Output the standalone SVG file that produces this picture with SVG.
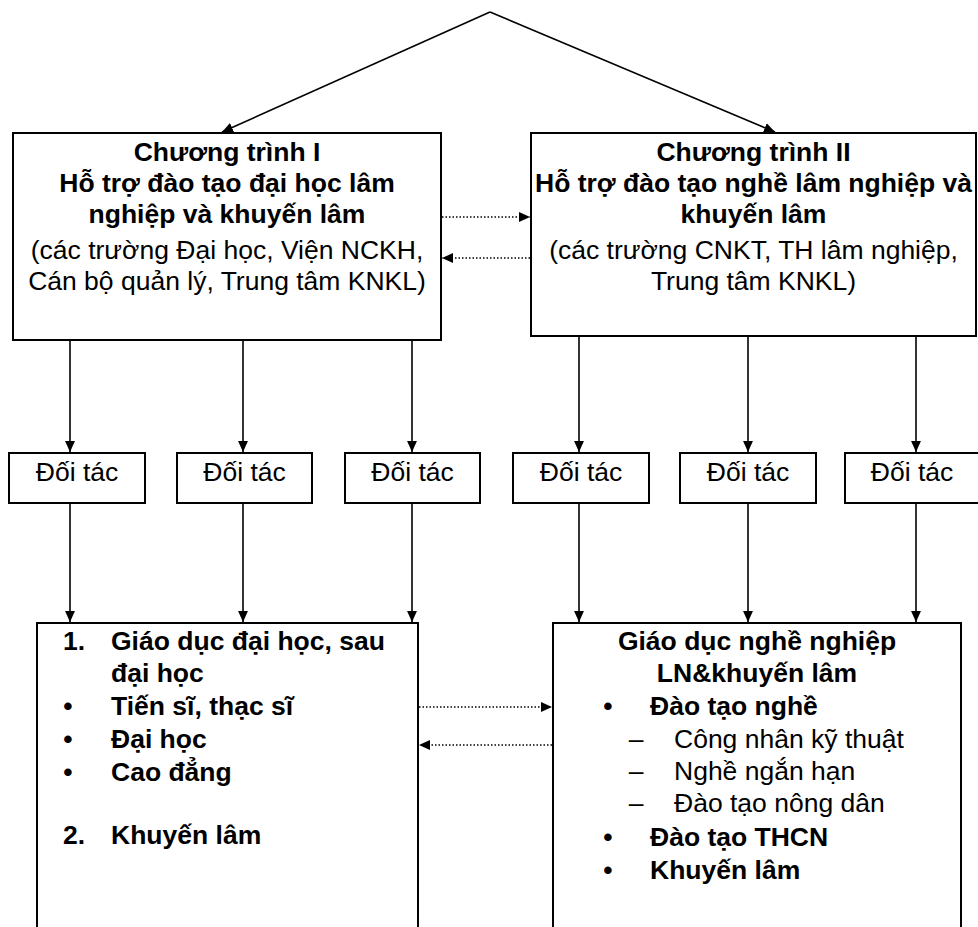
<svg xmlns="http://www.w3.org/2000/svg" width="978" height="927" viewBox="0 0 978 927">
<style>
.box{fill:#fff;stroke:#000;stroke-width:2}
.ln{fill:none;stroke:#000;stroke-width:1.6}
.dot{fill:none;stroke:#000;stroke-width:1.6;stroke-dasharray:1.5 2}
text{font-family:"Liberation Sans",Arial,sans-serif;font-size:26.5px;fill:#000}
.b{font-weight:bold}
.c{text-anchor:middle}
</style>
<defs>
<marker id="ah" markerUnits="userSpaceOnUse" markerWidth="11" markerHeight="10" refX="10" refY="4.5" orient="auto" viewBox="0 0 10 9">
<path d="M0,0 L10,4.5 L0,9 z" fill="#000"/>
</marker>
</defs>
<rect width="978" height="927" fill="#fff"/>

<g id="connectors">
<line class="ln" x1="490" y1="12" x2="222" y2="132" marker-end="url(#ah)"/>
<line class="ln" x1="490" y1="12" x2="775" y2="132" marker-end="url(#ah)"/>
<line class="dot" x1="442" y1="217" x2="530" y2="217" marker-end="url(#ah)"/>
<line class="dot" x1="530" y1="258" x2="442" y2="258" marker-end="url(#ah)"/>
<line class="ln" x1="70" y1="340" x2="70" y2="452" marker-end="url(#ah)"/>
<line class="ln" x1="243" y1="340" x2="243" y2="452" marker-end="url(#ah)"/>
<line class="ln" x1="412" y1="340" x2="412" y2="452" marker-end="url(#ah)"/>
<line class="ln" x1="579" y1="336" x2="579" y2="452" marker-end="url(#ah)"/>
<line class="ln" x1="748" y1="336" x2="748" y2="452" marker-end="url(#ah)"/>
<line class="ln" x1="916" y1="336" x2="916" y2="452" marker-end="url(#ah)"/>
<line class="ln" x1="70" y1="503" x2="70" y2="622" marker-end="url(#ah)"/>
<line class="ln" x1="243" y1="503" x2="243" y2="622" marker-end="url(#ah)"/>
<line class="ln" x1="412" y1="503" x2="412" y2="622" marker-end="url(#ah)"/>
<line class="ln" x1="579" y1="503" x2="579" y2="622" marker-end="url(#ah)"/>
<line class="ln" x1="748" y1="503" x2="748" y2="622" marker-end="url(#ah)"/>
<line class="ln" x1="916" y1="503" x2="916" y2="622" marker-end="url(#ah)"/>
<line class="dot" x1="419" y1="707" x2="552" y2="707" marker-end="url(#ah)"/>
<line class="dot" x1="552" y1="745" x2="419" y2="745" marker-end="url(#ah)"/>
</g>

<g id="program1">
<rect class="box" x="13" y="133" width="428" height="207"/>
<text class="b c" x="227" y="161">Chương trình I</text>
<text class="b c" x="227" y="192">Hỗ trợ đào tạo đại học lâm</text>
<text class="b c" x="227" y="223">nghiệp và khuyến lâm</text>
<text class="c" x="227" y="259">(các trường Đại học, Viện NCKH,</text>
<text class="c" x="227" y="290">Cán bộ quản lý, Trung tâm KNKL)</text>
</g>

<g id="program2">
<rect class="box" x="531" y="133" width="445" height="203"/>
<text class="b c" x="753.5" y="161">Chương trình II</text>
<text class="b c" x="753.5" y="192">Hỗ trợ đào tạo nghề lâm nghiệp và</text>
<text class="b c" x="753.5" y="223">khuyến lâm</text>
<text class="c" x="753.5" y="259">(các trường CNKT, TH lâm nghiệp,</text>
<text class="c" x="753.5" y="290">Trung tâm KNKL)</text>
</g>

<g id="partner1"><rect class="box" x="9" y="453" width="136" height="50"/><text class="c" x="77" y="481">Đối tác</text></g>
<g id="partner2"><rect class="box" x="177" y="453" width="135" height="50"/><text class="c" x="244.5" y="481">Đối tác</text></g>
<g id="partner3"><rect class="box" x="345" y="453" width="135" height="50"/><text class="c" x="412.5" y="481">Đối tác</text></g>
<g id="partner4"><rect class="box" x="513" y="453" width="136" height="50"/><text class="c" x="581" y="481">Đối tác</text></g>
<g id="partner5"><rect class="box" x="680" y="453" width="136" height="50"/><text class="c" x="748" y="481">Đối tác</text></g>
<g id="partner6"><rect class="box" x="845" y="453" width="140" height="50"/><text class="c" x="912" y="481">Đối tác</text></g>

<g id="higher-education">
<rect class="box" x="37" y="623" width="381" height="340"/>
<text class="b" x="63" y="650">1.</text>
<text class="b" x="111" y="650">Giáo dục đại học, sau</text>
<text class="b" x="111" y="682">đại học</text>
<text class="b c" x="68" y="715">•</text>
<text class="b" x="111" y="715">Tiến sĩ, thạc sĩ</text>
<text class="b c" x="68" y="748">•</text>
<text class="b" x="111" y="748">Đại học</text>
<text class="b c" x="68" y="781">•</text>
<text class="b" x="111" y="781">Cao đẳng</text>
<text class="b" x="63" y="844">2.</text>
<text class="b" x="111" y="844">Khuyến lâm</text>
</g>

<g id="vocational-education">
<rect class="box" x="553" y="623" width="408" height="340"/>
<text class="b c" x="757" y="650">Giáo dục nghề nghiệp</text>
<text class="b c" x="757" y="682">LN&amp;khuyến lâm</text>
<text class="b c" x="608" y="715">•</text>
<text class="b" x="650" y="715">Đào tạo nghề</text>
<text class="c" x="636" y="748">–</text>
<text x="674" y="748">Công nhân kỹ thuật</text>
<text class="c" x="636" y="780">–</text>
<text x="674" y="780">Nghề ngắn hạn</text>
<text class="c" x="636" y="812">–</text>
<text x="674" y="812">Đào tạo nông dân</text>
<text class="b c" x="608" y="846">•</text>
<text class="b" x="650" y="846">Đào tạo THCN</text>
<text class="b c" x="608" y="879">•</text>
<text class="b" x="650" y="879">Khuyến lâm</text>
</g>
</svg>
